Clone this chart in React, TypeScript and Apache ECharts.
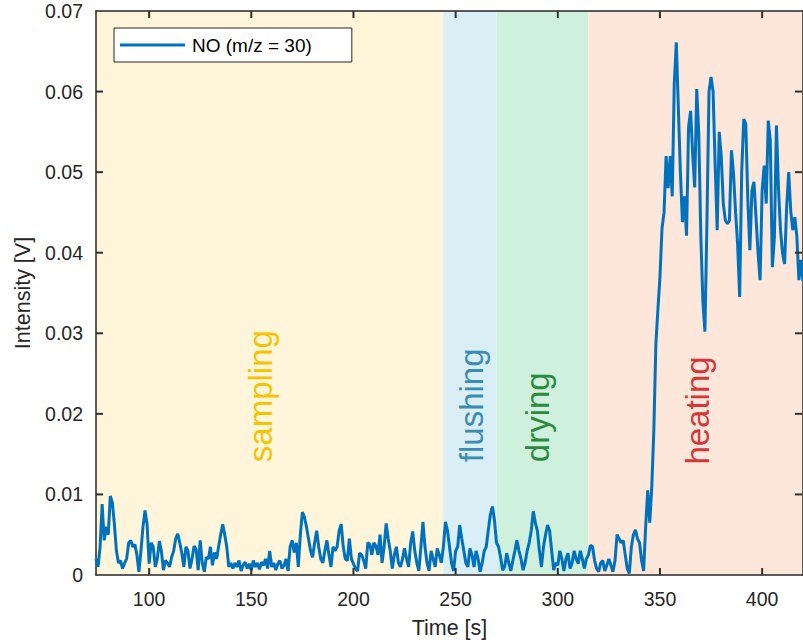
import React, { useEffect, useRef } from "react";
import * as echarts from "echarts";

// NO (m/z = 30) intensity, sampled once per second starting at t = 74 s
const timeStartS = 74;
const timeStepS = 1;
const intensityV = [
  // 74-83
  0.0020, 0.0010, 0.0035, 0.0088, 0.0043, 0.0060, 0.0050, 0.0098, 0.0090, 0.0063,
  // 84-93
  0.0030, 0.0015, 0.0018, 0.0008, 0.0015, 0.0020, 0.0040, 0.0043, 0.0035, 0.0038,
  // 94-103
  0.0025, 0.0004, 0.0030, 0.0060, 0.0080, 0.0063, 0.0014, 0.0040, 0.0035, 0.0010,
  // 104-113
  0.0020, 0.0042, 0.0030, 0.0006, 0.0018, 0.0015, 0.0010, 0.0022, 0.0030, 0.0045,
  // 114-123
  0.0051, 0.0040, 0.0027, 0.0010, 0.0035, 0.0030, 0.0008, 0.0020, 0.0036, 0.0032,
  // 124-133
  0.0006, 0.0043, 0.0015, 0.0004, 0.0022, 0.0020, 0.0035, 0.0012, 0.0028, 0.0020,
  // 134-143
  0.0035, 0.0050, 0.0063, 0.0050, 0.0035, 0.0010, 0.0015, 0.0008, 0.0015, 0.0010,
  // 144-153
  0.0018, 0.0005, 0.0012, 0.0016, 0.0008, 0.0014, 0.0006, 0.0018, 0.0010, 0.0015,
  // 154-163
  0.0007, 0.0016, 0.0012, 0.0020, 0.0008, 0.0030, 0.0010, 0.0015, 0.0006, 0.0014,
  // 164-173
  0.0018, 0.0008, 0.0012, 0.0020, 0.0005, 0.0035, 0.0043, 0.0028, 0.0040, 0.0010,
  // 174-183
  0.0050, 0.0078, 0.0072, 0.0060, 0.0045, 0.0030, 0.0022, 0.0040, 0.0055, 0.0035,
  // 184-193
  0.0020, 0.0015, 0.0030, 0.0043, 0.0025, 0.0010, 0.0035, 0.0030, 0.0035, 0.0055,
  // 194-203
  0.0063, 0.0035, 0.0020, 0.0018, 0.0045, 0.0020, 0.0014, 0.0008, 0.0005, 0.0027,
  // 204-213
  0.0025, 0.0018, 0.0008, 0.0040, 0.0038, 0.0025, 0.0040, 0.0036, 0.0025, 0.0050,
  // 214-223
  0.0015, 0.0035, 0.0064, 0.0045, 0.0030, 0.0008, 0.0025, 0.0035, 0.0015, 0.0010,
  // 224-233
  0.0020, 0.0033, 0.0020, 0.0010, 0.0040, 0.0054, 0.0030, 0.0015, 0.0005, 0.0035,
  // 234-243
  0.0066, 0.0035, 0.0015, 0.0005, 0.0030, 0.0020, 0.0010, 0.0033, 0.0025, 0.0015,
  // 244-253
  0.0035, 0.0066, 0.0055, 0.0035, 0.0015, 0.0005, 0.0030, 0.0035, 0.0062, 0.0045,
  // 254-263
  0.0030, 0.0015, 0.0010, 0.0033, 0.0025, 0.0010, 0.0030, 0.0020, 0.0004, 0.0015,
  // 264-273
  0.0030, 0.0035, 0.0056, 0.0075, 0.0085, 0.0068, 0.0040, 0.0035, 0.0022, 0.0006,
  // 274-283
  0.0010, 0.0027, 0.0015, 0.0005, 0.0018, 0.0030, 0.0043, 0.0030, 0.0020, 0.0006,
  // 284-293
  0.0015, 0.0030, 0.0040, 0.0055, 0.0079, 0.0065, 0.0055, 0.0030, 0.0010, 0.0035,
  // 294-303
  0.0050, 0.0062, 0.0055, 0.0030, 0.0006, 0.0015, 0.0012, 0.0030, 0.0020, 0.0005,
  // 304-313
  0.0020, 0.0027, 0.0008, 0.0015, 0.0030, 0.0020, 0.0014, 0.0030, 0.0020, 0.0008,
  // 314-323
  0.0020, 0.0025, 0.0037, 0.0035, 0.0018, 0.0008, 0.0004, 0.0015, 0.0018, 0.0005,
  // 324-333
  0.0012, 0.0020, 0.0012, 0.0004, 0.0018, 0.0050, 0.0045, 0.0040, 0.0043, 0.0025,
  // 334-343
  0.0008, 0.0002, 0.0035, 0.0050, 0.0056, 0.0045, 0.0040, 0.0018, 0.0005, 0.0060,
  // 344-353
  0.0105, 0.0065, 0.0110, 0.0180, 0.0287, 0.0330, 0.0370, 0.0430, 0.0450, 0.0520,
  // 354-363
  0.0480, 0.0520, 0.0470, 0.0610, 0.0661, 0.0580, 0.0500, 0.0438, 0.0470, 0.0421,
  // 364-373
  0.0556, 0.0576, 0.0523, 0.0481, 0.0603, 0.0547, 0.0420, 0.0340, 0.0302, 0.0440,
  // 374-383
  0.0600, 0.0618, 0.0600, 0.0510, 0.0428, 0.0550, 0.0519, 0.0461, 0.0440, 0.0436,
  // 384-393
  0.0440, 0.0527, 0.0498, 0.0450, 0.0411, 0.0345, 0.0500, 0.0566, 0.0560, 0.0465,
  // 394-403
  0.0403, 0.0477, 0.0488, 0.0444, 0.0400, 0.0366, 0.0477, 0.0508, 0.0461, 0.0564,
  // 404-413
  0.0539, 0.0382, 0.0419, 0.0558, 0.0480, 0.0428, 0.0399, 0.0386, 0.0457, 0.0500,
  // 414-420
  0.0452, 0.0428, 0.0444, 0.0420, 0.0366, 0.0391, 0.0365,
];

const seriesName = "NO (m/z = 30)";
const xTickValues = [100, 150, 200, 250, 300, 350, 400];
const yTickValues = [0.01, 0.02, 0.03, 0.04, 0.05, 0.06];
const xMin = 74;
const xMax = 420;
const yMin = 0;
const yMax = 0.07;
const yInterval = 0.01;

const phaseNames = ["sampling", "flushing", "drying", "heating"];
const phaseStartS = [74, 244, 270, 315];
const phaseEndS = [244, 270, 315, 420];
const phaseFill = ["#fef5da", "#daeef6", "#cff0dc", "#fde7da"];
const phaseTextColor = ["#f5c400", "#3a8db0", "#2b8a40", "#d4373a"];
const phaseLabelTimeS = [154.3, 258.0, 290.3, 368.6];
const phaseLabelIntensityV = [0.0140, 0.0140, 0.0140, 0.0137];

const axisColor = "#262626";
const lineColor = "#0072bd";
const tickLen = 7;
const tickWidth = 2;
const fontFamily = "'Liberation Sans', Arial, Helvetica, sans-serif";

export default function App() {
  const ref = useRef<HTMLDivElement>(null);

  useEffect(() => {
    if (!ref.current) return;
    const chart = echarts.init(ref.current, undefined, { renderer: "svg" });

    const lineData = intensityV.map((v, i) => [timeStartS + i * timeStepS, v]);
    const bands = phaseNames.map((n, i) => [
      { xAxis: phaseStartS[i], itemStyle: { color: phaseFill[i], opacity: 1 } },
      { xAxis: phaseEndS[i] },
    ]);
    const labelData = phaseNames.map((n, i) => ({
      name: n,
      value: [phaseLabelTimeS[i], phaseLabelIntensityV[i]],
      label: { color: phaseTextColor[i] },
    }));

    const xCommon = {
      type: "value",
      min: xMin,
      max: xMax,
      axisLine: { show: true, onZero: false, lineStyle: { color: axisColor, width: 1.5 } },
      axisTick: { show: false },
      splitLine: { show: false },
    };
    const yCommon = {
      type: "value",
      min: yMin,
      max: yMax,
      interval: yInterval,
      axisLine: { show: true, onZero: false, lineStyle: { color: axisColor, width: 1.5 } },
      axisTick: { show: false },
      splitLine: { show: false },
    };

    chart.setOption({
      animation: false,
      backgroundColor: "#ffffff",
      textStyle: { fontFamily },
      grid: { left: 96, top: 11, right: 0, bottom: 69, containLabel: false },
      legend: {
        data: [{ name: seriesName, icon: "rect" }],
        left: 114,
        top: 28,
        padding: [7, 40, 7, 6],
        itemWidth: 65,
        itemHeight: 3,
        itemGap: 5,
        backgroundColor: "#ffffff",
        borderColor: axisColor,
        borderWidth: 1,
        z: 20,
        itemStyle: { color: lineColor },
        textStyle: { fontSize: 19, color: "#000000", fontFamily, lineHeight: 20, padding: [0, 0, 0, 2] },
      },
      xAxis: [
        {
          ...xCommon,
          position: "bottom",
          name: "Time [s]",
          nameLocation: "middle",
          nameGap: 42,
          nameTextStyle: { fontSize: 21.5, color: axisColor, fontFamily },
          axisLabel: {
            show: true,
            customValues: xTickValues,
            margin: 14,
            fontSize: 19.5,
            color: axisColor,
            fontFamily,
          },
        },
        {
          ...xCommon,
          position: "top",
          axisLabel: { show: false },
        },
      ],
      yAxis: [
        {
          ...yCommon,
          position: "left",
          name: "Intensity [V]",
          nameLocation: "middle",
          nameGap: 56,
          nameRotate: 90,
          nameTextStyle: { fontSize: 21.5, color: axisColor, fontFamily },
          axisLabel: {
            show: true,
            margin: 13,
            fontSize: 19.5,
            color: axisColor,
            fontFamily,
            formatter: (v: number) => (v === 0 ? "0" : v.toFixed(2)),
          },
        },
        {
          ...yCommon,
          position: "right",
          axisLabel: { show: false },
        },
      ],
      series: [
        {
          name: "phase bands",
          type: "line",
          data: [],
          z: 0,
          silent: true,
          markArea: { silent: true, z: 0, data: bands },
        },
        {
          name: seriesName,
          type: "line",
          data: lineData,
          showSymbol: false,
          symbol: "none",
          z: 5,
          lineStyle: { color: lineColor, width: 3 },
          itemStyle: { color: lineColor },
        },
        {
          name: "phases",
          type: "scatter",
          data: labelData,
          symbolSize: 1,
          itemStyle: { color: "rgba(0,0,0,0)", opacity: 1 },
          silent: true,
          z: 3,
          label: {
            show: true,
            opacity: 1,
            position: "inside",
            rotate: 90,
            align: "left",
            verticalAlign: "middle",
            fontSize: 33,
            fontFamily,
            formatter: (p: any) => p.name,
          },
        },
      ],
    });

    // Inward tick marks on all four sides (filled rects), placed through the axes' scales.
    const tickFill = { fill: "#303030" };
    const ticks: any[] = [];
    xTickValues.forEach((v) => {
      const b = chart.convertToPixel({ gridIndex: 0 }, [v, yMin]) as number[];
      const t = chart.convertToPixel({ gridIndex: 0 }, [v, yMax]) as number[];
      ticks.push({ type: "rect", z: 100, silent: true, shape: { x: b[0] - tickWidth / 2, y: b[1] - tickLen, width: tickWidth, height: tickLen }, style: tickFill });
      ticks.push({ type: "rect", z: 100, silent: true, shape: { x: t[0] - tickWidth / 2, y: t[1], width: tickWidth, height: tickLen }, style: tickFill });
    });
    yTickValues.forEach((v) => {
      const l = chart.convertToPixel({ gridIndex: 0 }, [xMin, v]) as number[];
      const r = chart.convertToPixel({ gridIndex: 0 }, [xMax, v]) as number[];
      ticks.push({ type: "rect", z: 100, silent: true, shape: { x: l[0], y: l[1] - tickWidth / 2, width: tickLen, height: tickWidth }, style: tickFill });
      ticks.push({ type: "rect", z: 100, silent: true, shape: { x: r[0] - 1 - tickLen, y: r[1] - tickWidth / 2, width: tickLen, height: tickWidth }, style: tickFill });
    });
    chart.setOption({ graphic: { elements: ticks } });

    return () => chart.dispose();
  }, []);

  return (
    <div
      ref={ref}
      style={{ position: "fixed", left: 0, top: 0, width: 803, height: 644 }}
    />
  );
}
